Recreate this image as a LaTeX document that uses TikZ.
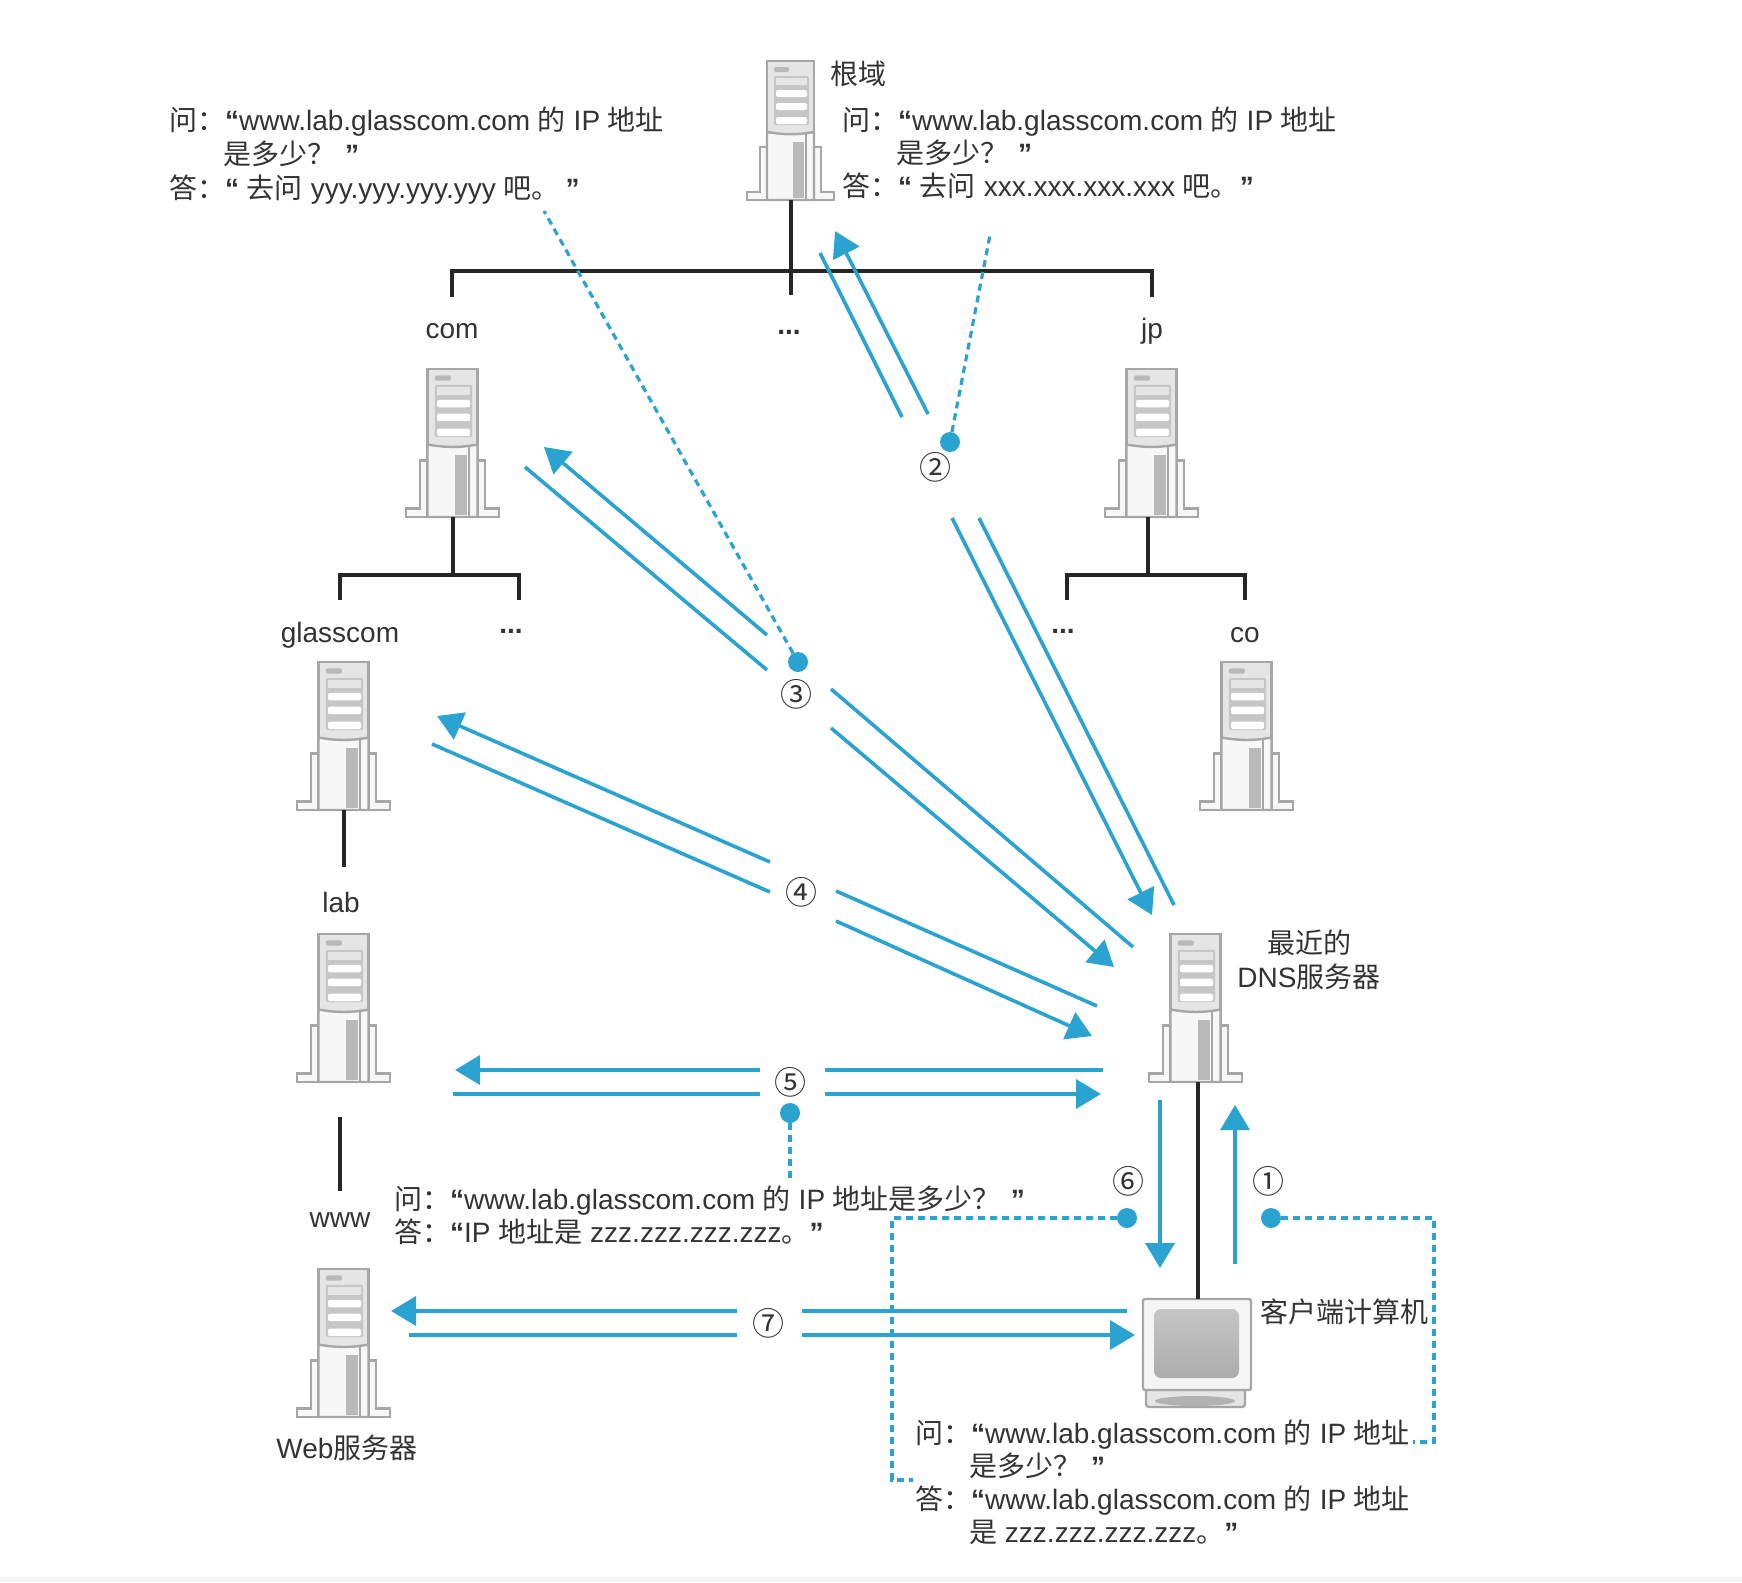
\documentclass[tikz,border=0pt]{standalone}
\usepackage{fontspec}
\setmainfont{Liberation Sans}
\newfontfamily\cjk{Noto Sans CJK SC}
\newcommand{\zh}[1]{{\cjk #1}}
\newcommand{\qo}{\textbf{“}}
\newcommand{\qc}{\textbf{”}}
\usetikzlibrary{arrows.meta}
\definecolor{dnsblue}{HTML}{2BA3D0}
\definecolor{inkgray}{HTML}{333333}
\tikzset{
    treeline/.style={line width=3.2pt, black!85},
    askarrow/.style={line width=3.6pt, dnsblue, -{Triangle[length=25pt,width=29pt]}},
    askline/.style={line width=3.6pt, dnsblue},
    noteline/.style={line width=3.2pt, dnsblue, dash pattern=on 7pt off 5pt},
    notedot/.style={circle, fill=dnsblue, inner sep=0pt, minimum size=20pt},
    label/.style={font=\fontsize{28}{34}\selectfont, text=inkgray, inner sep=0pt},
    note/.style={font=\fontsize{28}{33}\selectfont, text=inkgray, inner sep=0pt, anchor=north west, align=left},
    stepmark/.style={font=\cjk\fontsize{32}{32}\selectfont, text=inkgray, inner sep=0pt},
    srvline/.style={line width=2.4pt, gray!70},
    server/.pic={
        % feet and side brackets
        \draw[srvline, fill=gray!6] (-44,0) -- (-44,-8) -- (-31,-8) -- (-31,-53) -- (30,-53) -- (30,-8) -- (43,-8) -- (43,0) -- cycle;
        % tower
        \draw[srvline, fill=gray!20] (-24,0) rectangle (23,-139);
        \fill[gray!45, rounded corners=2pt] (-17,-124) rectangle (18,-75);
        \foreach \y in {-110,-97,-83} {
            \fill[white, rounded corners=2pt] (-15,\y) rectangle (16,\y+7);
        }
        \fill[gray!20] (-15,-122) rectangle (16,-115);
        \fill[gray!55, rounded corners=2pt] (-17,-133) rectangle (-2,-128);
        \draw[srvline, fill=gray!6] (-24,0) -- (-24,-68) .. controls (-5,-65) and (5,-65) .. (23,-68) -- (23,0) -- cycle;
        \fill[gray!55] (2,-2) rectangle (13,-58);
        \draw[srvline] (15,0) -- (15,-67);
        \coordinate (-base) at (0,0);
    },
    screen/.pic={
        % stand
        \draw[srvline, fill=gray!20, rounded corners=3pt] (-52,108) rectangle (47,90);
        \fill[gray!60] (-3,102) ellipse (40 and 5);
        % monitor
        \draw[srvline, fill=gray!8, rounded corners=2pt] (-55,0) rectangle (53,91);
        \shade[top color=gray!45, bottom color=gray!65, rounded corners=7pt] (-44,10) rectangle (41,79);
        \coordinate (-top) at (0,0);
    },
}
\begin{document}
\begin{tikzpicture}[x=1pt, y=-1pt]
    \useasboundingbox[fill=white] (0,0) rectangle (1742,1582);
    \fill[gray!8] (0,1577) rectangle (1742,1582);
    % servers
    \pic (root) at (791,200) {server};
    \pic[scale=1.065] (com) at (453,517) {server};
    \pic[scale=1.065] (jp) at (1152,517) {server};
    \pic[scale=1.065] (glasscom) at (344,810) {server};
    \pic[scale=1.065] (co) at (1247,810) {server};
    \pic[scale=1.065] (lab) at (344,1082) {server};
    \pic[scale=1.065] (near) at (1196,1082) {server};
    \pic[scale=1.065] (web) at (344,1417) {server};
    \pic (client) at (1198,1299) {screen};
    % labels
    \node[label] (lblroot) at (858,74) {\zh{根域}};
    \node[label] (lblcom) at (452,331) {com};
    \node[label] (lbldots) at (789,332) {\textbf{...}};
    \node[label] (lbljp) at (1152,331) {jp};
    \node[label] (lblglass) at (340,635) {glasscom};
    \node[label] (lbldotsa) at (511,631) {\textbf{...}};
    \node[label] (lbldotsb) at (1063,631) {\textbf{...}};
    \node[label] (lblco) at (1245,635) {co};
    \node[label] (lbllab) at (341,902) {lab};
    \node[label] (lblwww) at (340,1220) {www};
    \node[label] (lblweb) at (347,1448) {Web\zh{服务器}};
    \node[label, align=center] (lblnear) at (1309,960) {\zh{最近的}\\DNS\zh{服务器}};
    \node[label] (lblclient) at (1344,1312) {\zh{客户端计算机}};
    % tree lines
    \coordinate (rootend) at (791,295);
    \coordinate (rootleft) at (452,271);
    \coordinate (rootright) at (1152,271);
    \coordinate (rootljoin) at (452,297);
    \coordinate (rootrjoin) at (1152,297);
    \draw[treeline] (root-base) -- (rootend);
    \draw[treeline] (rootljoin) -- (rootleft) -- (rootright) -- (rootrjoin);
    \coordinate (comleft) at (340,575);
    \coordinate (comright) at (519,575);
    \coordinate (comljoin) at (340,600);
    \coordinate (comrjoin) at (519,600);
    \coordinate (commid) at (453,575);
    \draw[treeline] (com-base) -- (commid);
    \draw[treeline] (comljoin) -- (comleft) -- (comright) -- (comrjoin);
    \coordinate (jpleft) at (1067,575);
    \coordinate (jpright) at (1245,575);
    \coordinate (jpljoin) at (1067,600);
    \coordinate (jprjoin) at (1245,600);
    \coordinate (jpmid) at (1148,575);
    \coordinate (jpfoot) at (1148,517);
    \draw[treeline] (jpfoot) -- (jpmid);
    \draw[treeline] (jpljoin) -- (jpleft) -- (jpright) -- (jprjoin);
    \coordinate (glassend) at (344,867);
    \draw[treeline] (glasscom-base) -- (glassend);
    \coordinate (wwwtop) at (340,1117);
    \coordinate (wwwend) at (340,1191);
    \draw[treeline] (wwwtop) -- (wwwend);
    \coordinate (nearfoot) at (1198,1082);
    \draw[treeline] (nearfoot) -- (client-top);
    % step marks and dots
    \foreach \n/\nn/\x/\y in {1/①/1268/1181, 2/②/935/467, 3/③/796/694, 4/④/801/892, 5/⑤/790/1082, 6/⑥/1128/1181, 7/⑦/768/1323} {
        \node[stepmark] (step\n) at (\x,\y) {\nn};
    }
    \foreach \n/\x/\y in {1/1271/1218, 2/950/442, 3/798/662, 5/790/1113, 6/1127/1218} {
        \node[notedot] (dot\n) at (\x,\y) {};
    }
    % notes
    \node[note, font=\fontsize{28}{34}\selectfont] (noteb) at (169,107) {\zh{问：}\qo www.lab.glasscom.com \zh{的} IP \zh{地址}\\\hspace*{54pt}\zh{是多少？}\hspace{10pt}\qc\\\zh{答：}\qo\ \zh{去问} yyy.yyy.yyy.yyy \zh{吧。}\hspace{6pt}\qc};
    \node[note] (notea) at (842,107) {\zh{问：}\qo www.lab.glasscom.com \zh{的} IP \zh{地址}\\\hspace*{54pt}\zh{是多少？}\hspace{10pt}\qc\\\zh{答：}\qo\ \zh{去问} xxx.xxx.xxx.xxx \zh{吧。}\hspace{1pt}\qc};
    \node[note] (notec) at (394,1186) {\zh{问：}\qo www.lab.glasscom.com \zh{的} IP \zh{地址是多少？}\hspace{10pt}\qc\\\zh{答：}\qo IP \zh{地址是} zzz.zzz.zzz.zzz\zh{。}\qc};
    \node[note] (noted) at (915,1420) {\zh{问：}\qo www.lab.glasscom.com \zh{的} IP \zh{地址}\\\hspace*{54pt}\zh{是多少？}\hspace{10pt}\qc\\\zh{答：}\qo www.lab.glasscom.com \zh{的} IP \zh{地址}\\\hspace*{54pt}\zh{是} zzz.zzz.zzz.zzz\zh{。}\qc};
    % dotted leaders
    \coordinate (leadb) at (544,211);
    \coordinate (leada) at (990,235);
    \coordinate (leadc) at (790,1180);
    \coordinate (turnfa) at (892,1218);
    \coordinate (turnfb) at (892,1480);
    \coordinate (endf) at (913,1480);
    \coordinate (turnga) at (1434,1218);
    \coordinate (turngb) at (1434,1442);
    \coordinate (endg) at (1413,1442);
    \draw[noteline] (dot2) -- (leada);
    \draw[noteline] (dot3) -- (leadb);
    \draw[noteline] (dot5) -- (leadc);
    \draw[noteline] (dot6) -- (turnfa) -- (turnfb) -- (endf);
    \draw[noteline] (dot1) -- (turnga) -- (turngb) -- (endg);
    % arrow ends: name, x, y
    \foreach \n/\x/\y in {
        aa/1235/1264, ab/1235/1105,
        ba/928/414, bb/835/231, bc/902/417, bd/820/253,
        be/952/518, bf/1152/915, bg/979/518, bh/1174/905,
        ca/767/635, cb/544/447, cc/767/670, cd/525/467,
        ce/831/689, cf/1133/947, cg/831/728, ch/1114/967,
        da/770/862, db/437/716, dc/770/892, dd/432/744,
        de/836/891, df/1097/1006, dg/836/921, dh/1092/1036,
        ea/760/1070, eb/455/1070, ec/760/1094, ed/453/1094,
        ee/825/1070, ef/1103/1070, eg/825/1094, eh/1101/1094,
        fa/1160/1100, fb/1160/1268,
        ga/737/1311, gb/391/1311, gc/737/1335, gd/409/1335,
        ge/802/1311, gf/1127/1311, gg/802/1335, gh/1135/1335} {
        \coordinate (\n) at (\x,\y);
    }
    % arrows
    \foreach \a/\b in {aa/ab, ba/bb, be/bf, ca/cb, cg/ch, da/db, dg/dh, ea/eb, eg/eh, fa/fb, ga/gb, gg/gh} {
        \draw[askarrow] (\a) -- (\b);
    }
    % plain partners
    \foreach \a/\b in {bc/bd, bg/bh, cc/cd, ce/cf, dc/dd, de/df, ec/ed, ee/ef, gc/gd, ge/gf} {
        \draw[askline] (\a) -- (\b);
    }
\end{tikzpicture}
\end{document}
